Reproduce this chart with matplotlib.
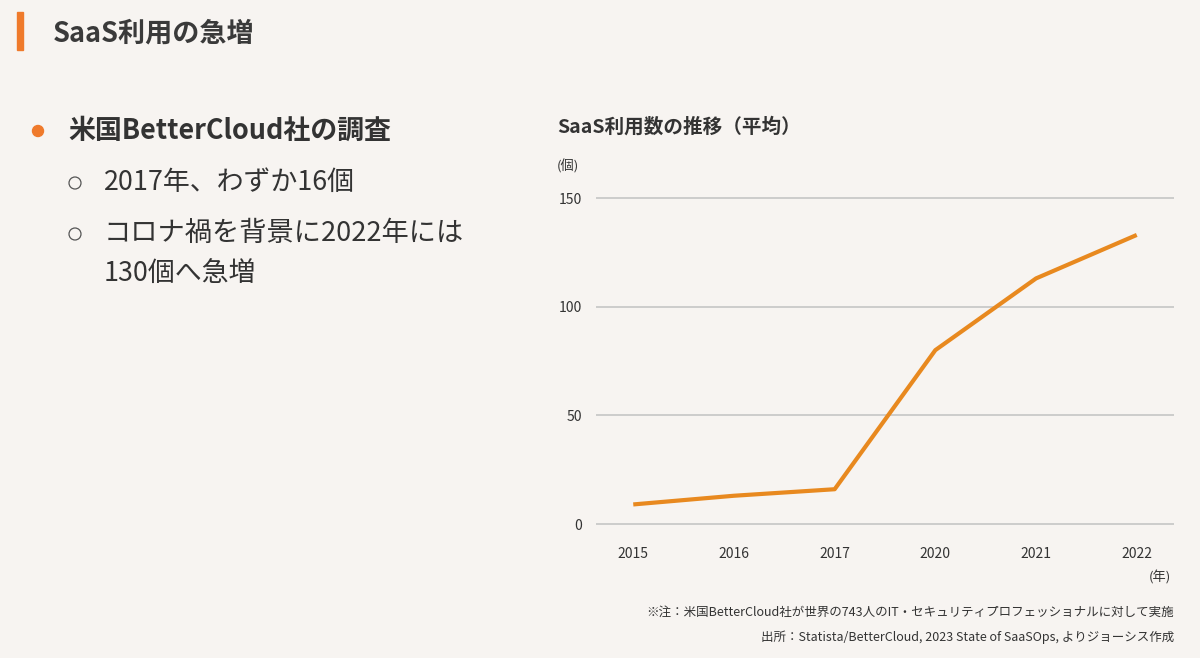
import matplotlib
matplotlib.use('Agg')
import matplotlib.pyplot as plt
from matplotlib.patches import Rectangle, Ellipse

plt.rcParams['font.family'] = ['Noto Sans CJK JP', 'DejaVu Sans']

# data
years = ['2015', '2016', '2017', '2020', '2021', '2022']
saas_count = [9, 13, 16, 80, 113, 133]
yticks = [0, 50, 100, 150]

bg = '#f7f4f1'
text_col = '#333333'
orange = '#e8891f'

W, H = 1200, 658
fig = plt.figure(figsize=(W / 100, H / 100), dpi=100, facecolor=bg)

def fx(px):
    return px / W

def fy(py):
    return 1 - py / H

# header
fig.patches.append(Rectangle((fx(17), fy(50)), 6 / W, 38 / H, transform=fig.transFigure,
                             color='#ef7a2b', zorder=5))
fig.text(fx(53), fy(33), 'SaaS利用の急増', fontsize=19.5, fontweight='bold',
         color='#3a3a3a', va='center', ha='left')

# left bullets
fig.patches.append(Ellipse((fx(38), fy(131)), 11 / W, 11 / H, transform=fig.transFigure,
                           color='#ef7a2b'))
fig.text(fx(68), fy(131), '米国BetterCloud社の調査', fontsize=19.4, fontweight='bold',
         color=text_col, va='center', ha='left')
for cy in [183, 234]:
    fig.patches.append(Ellipse((fx(75), fy(cy)), 12 / W, 12 / H, transform=fig.transFigure,
                               fill=False, ec='#555555', lw=0.9))
fig.text(fx(104), fy(182), '2017年、わずか16個', fontsize=19.4, color=text_col,
         va='center', ha='left')
fig.text(fx(104), fy(233), 'コロナ禍を背景に2022年には', fontsize=19.6, color=text_col,
         va='center', ha='left')
fig.text(fx(104), fy(274), '130個へ急増', fontsize=19.4, color=text_col,
         va='center', ha='left')

# chart
ylo, yhi = -6, 156
ppu = (524 - 198) / 150
bot_px = 524 - ylo * ppu
top_px = 198 - (yhi - 150) * ppu
ax = fig.add_axes([fx(596), fy(bot_px), (1174 - 596) / W, (bot_px - top_px) / H])
ax.set_facecolor(bg)
ax.plot(range(len(years)), saas_count, color=orange, lw=3, solid_capstyle='butt', zorder=3)
ax.set_ylim(ylo, yhi)
ax.set_xlim(-0.37, len(years) - 1 + 0.37)
ax.set_yticks(yticks)
ax.set_xticks(range(len(years)))
ax.set_xticklabels(years)
for v in yticks:
    ax.axhline(v, color='#c9c9c9', lw=1.3, zorder=1)
for s in ax.spines.values():
    s.set_visible(False)
ax.tick_params(axis='both', length=0, labelsize=10, colors=text_col)
ax.tick_params(axis='y', pad=10)
ax.tick_params(axis='x', pad=7)

fig.text(fx(557), fy(127), 'SaaS利用数の推移（平均）', fontsize=14.1, fontweight='bold',
         color=text_col, va='center', ha='left')
fig.text(fx(568), fy(166), '(個)', fontsize=9.5, color=text_col, va='center', ha='center')
fig.text(fx(1160), fy(577), '(年)', fontsize=9.5, color=text_col, va='center', ha='center')
fig.text(fx(1174), fy(612),
         '※注：米国BetterCloud社が世界の743人のIT・セキュリティプロフェッショナルに対して実施',
         fontsize=9, color=text_col, va='center', ha='right')
fig.text(fx(1174), fy(637),
         '出所：Statista/BetterCloud, 2023 State of SaaSOps, よりジョーシス作成',
         fontsize=9, color=text_col, va='center', ha='right')

fig.savefig('out.png', dpi=100, facecolor=bg)
